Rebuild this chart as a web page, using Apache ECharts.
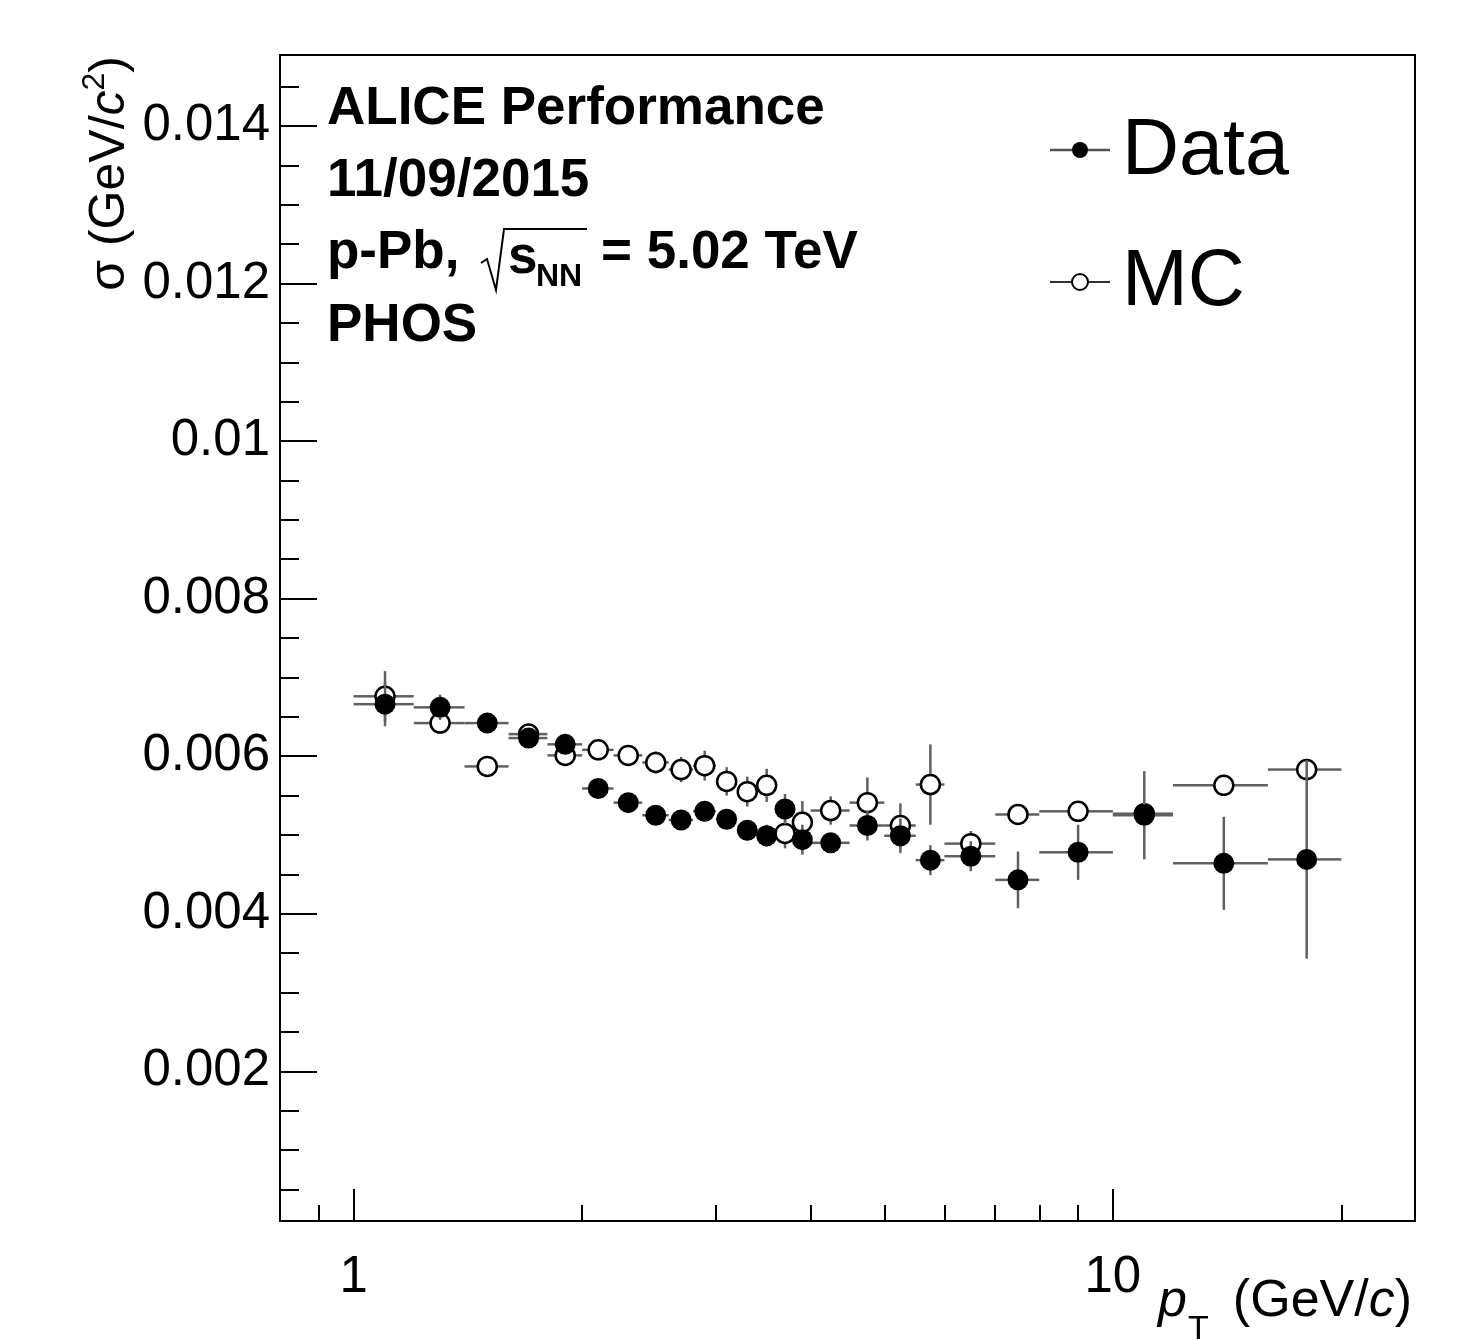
<!DOCTYPE html>
<html lang="en">
<head>
<meta charset="UTF-8" />
<title>sigma vs pT</title>
<script src="https://cdn.jsdelivr.net/npm/echarts@6/dist/echarts.min.js"></script>
<style>html,body{margin:0;padding:0;background:#fff;}</style>
</head>
<body>
<div id="main" style="width:1470px;height:1340px;"></div>
<script>
// pT bin edges (GeV/c)
var binEdges = [1.0, 1.2, 1.4, 1.6, 1.8, 2.0, 2.2, 2.4, 2.6, 2.8, 3.0, 3.2, 3.4, 3.6, 3.8, 4.0,
                4.5, 5.0, 5.5, 6.0, 7.0, 8.0, 10.0, 12.0, 16.0, 20.0];

// sigma (GeV/c^2)
var dataSigma = [0.00666, 0.00662, 0.00642, 0.00623, 0.00615, 0.00559, 0.00541, 0.00525, 0.00519, 0.00530,
                 0.00520, 0.00506, 0.00499, 0.00533, 0.00494, 0.00490, 0.00512, 0.00499, 0.00468, 0.00473,
                 0.00443, 0.00478, 0.00525, 0.00464, 0.00469];
var dataErr   = [0.00028, 0.00016, 0.00012, 0.00012, 0.00012, 0.00013, 0.00012, 0.00012, 0.00012, 0.00013,
                 0.00013, 0.00013, 0.00014, 0.00019, 0.00019, 0.00012, 0.00019, 0.00022, 0.00019, 0.00019,
                 0.00036, 0.00035, 0.00056, 0.00059, 0.00126];
var mcSigma   = [0.00676, 0.00642, 0.00587, 0.00628, 0.00601, 0.00608, 0.00601, 0.00592, 0.00583, 0.00588,
                 0.00568, 0.00555, 0.00563, 0.00502, 0.00516, 0.00531, 0.00541, 0.00512, 0.00564, 0.00489,
                 0.00526, 0.00530, 0.00527, 0.00563, 0.00583];
var mcErr     = [0.00032, 0.00012, 0.00012, 0.00012, 0.00012, 0.00012, 0.00012, 0.00014, 0.00016, 0.00019,
                 0.00018, 0.00019, 0.00021, 0.00019, 0.00027, 0.00018, 0.00032, 0.00028, 0.00051, 0.00016,
                 0.00012, 0.00012, 0.00012, 0.00012, 0.00012];

// axis ticks
var xMajorTicks = [1, 10];
var xMinorTicks = [0.9, 2, 3, 4, 5, 6, 7, 8, 9, 20];
var yMajorTicks = [0.002, 0.004, 0.006, 0.008, 0.01, 0.012, 0.014];
var yMinorTicks = [0.0005, 0.001, 0.0015, 0.0025, 0.003, 0.0035, 0.0045, 0.005, 0.0055, 0.0065, 0.007,
                   0.0075, 0.0085, 0.009, 0.0095, 0.0105, 0.011, 0.0115, 0.0125, 0.013, 0.0135, 0.0145];

var FONT = "'Liberation Sans', Arial, Helvetica, sans-serif";

function buildRows(vals, errs) {
  var rows = [];
  for (var i = 0; i < vals.length; i++) {
    var lo = binEdges[i], hi = binEdges[i + 1];
    rows.push([(lo + hi) / 2, vals[i], lo, hi, errs[i]]);
  }
  return rows;
}
var dataRows = buildRows(dataSigma, dataErr);
var mcRows = buildRows(mcSigma, mcErr);

// ROOT style error bars: stop at the marker edge
function errorBars(gap) {
  return function (params, api) {
    var x = api.value(0), y = api.value(1), lo = api.value(2), hi = api.value(3), e = api.value(4);
    var c = api.coord([x, y]);
    var l = api.coord([lo, y]), r = api.coord([hi, y]);
    var t = api.coord([x, y + e]), b = api.coord([x, y - e]);
    var style = { stroke: '#606060', lineWidth: 2.5, fill: null };
    var kids = [];
    function seg(x1, y1, x2, y2) {
      kids.push({ type: 'line', shape: { x1: x1, y1: y1, x2: x2, y2: y2 }, style: style });
    }
    if (c[0] - gap > l[0]) seg(l[0], c[1], c[0] - gap, c[1]);
    if (r[0] > c[0] + gap) seg(c[0] + gap, c[1], r[0], c[1]);
    if (t[1] < c[1] - gap) seg(c[0], t[1], c[0], c[1] - gap);
    if (b[1] > c[1] + gap) seg(c[0], c[1] + gap, c[0], b[1]);
    return { type: 'group', children: kids };
  };
}

var myChart = echarts.init(document.getElementById('main'));

var txt = function (x, y, s, size, weight, extra) {
  var st = { text: s, x: x, y: y, fill: '#000', font: (weight || 'normal') + ' ' + size + 'px ' + FONT,
             verticalAlign: 'middle' };
  if (extra) for (var k in extra) st[k] = extra[k];
  return { type: 'text', style: st, z: 100 };
};

var option = {
  animation: false,
  backgroundColor: '#fff',
  grid: {
    left: 280, top: 55, right: 55, bottom: 119,
    show: true, borderColor: '#000', borderWidth: 2, backgroundColor: 'transparent'
  },
  xAxis: [{
    type: 'log', logBase: 10, min: 0.8, max: 25, position: 'bottom',
    axisLine: { show: true, lineStyle: { color: '#000', width: 2 } },
    axisTick: { show: true, inside: true, length: 32, customValues: xMajorTicks, lineStyle: { color: '#000', width: 2 } },
    axisLabel: { show: true, customValues: xMajorTicks, margin: 31, color: '#000', fontSize: 51, fontFamily: FONT },
    splitLine: { show: false }
  }, {
    type: 'log', logBase: 10, min: 0.8, max: 25, position: 'bottom',
    axisLine: { show: false },
    axisTick: { show: true, inside: true, length: 16, customValues: xMinorTicks, lineStyle: { color: '#000', width: 2 } },
    axisLabel: { show: false },
    splitLine: { show: false }
  }],
  yAxis: [{
    type: 'value', min: 0.0001, max: 0.0149, position: 'left',
    axisLine: { show: true, lineStyle: { color: '#000', width: 2 } },
    axisTick: { show: true, inside: true, length: 37, customValues: yMajorTicks, lineStyle: { color: '#000', width: 2 } },
    axisLabel: { show: true, customValues: yMajorTicks, margin: 10, color: '#000', fontSize: 51, fontFamily: FONT,
                 formatter: function (v) { return String(+v.toPrecision(6)); } },
    splitLine: { show: false }
  }, {
    type: 'value', min: 0.0001, max: 0.0149, position: 'left',
    axisLine: { show: false },
    axisTick: { show: true, inside: true, length: 19, customValues: yMinorTicks, lineStyle: { color: '#000', width: 2 } },
    axisLabel: { show: false },
    splitLine: { show: false }
  }],
  series: [{
    name: 'MC err', type: 'custom', renderItem: errorBars(10), data: mcRows,
    encode: { x: 0, y: 1 }, z: 2, silent: true
  }, {
    name: 'MC', type: 'scatter', data: mcRows.map(function (r) { return [r[0], r[1]]; }),
    symbol: 'circle', symbolSize: 19, z: 3, silent: true,
    itemStyle: { color: 'rgba(0,0,0,0)', borderColor: '#000', borderWidth: 2.5, opacity: 1 }
  }, {
    name: 'Data err', type: 'custom', renderItem: errorBars(10), data: dataRows,
    encode: { x: 0, y: 1 }, z: 4, silent: true
  }, {
    name: 'Data', type: 'scatter', data: dataRows.map(function (r) { return [r[0], r[1]]; }),
    symbol: 'circle', symbolSize: 21, z: 5, silent: true,
    itemStyle: { color: '#000', borderWidth: 0, opacity: 1 }
  }],
  graphic: [
    // y axis title
    {
      type: 'text', x: 107, y: 56, rotation: Math.PI / 2, z: 100,
      style: {
        text: '{n|σ (GeV/}{i|c}{s|2}{n|)}', align: 'right', verticalAlign: 'middle', fill: '#000',
        rich: {
          n: { fontSize: 50, fontFamily: FONT, lineHeight: 56, verticalAlign: 'bottom' },
          i: { fontSize: 50, fontFamily: FONT, fontStyle: 'italic', lineHeight: 56, verticalAlign: 'bottom' },
          s: { fontSize: 32, fontFamily: FONT, lineHeight: 56, verticalAlign: 'top' }
        }
      }
    },
    // x axis title
    txt(1158, 1302, 'p', 52, 'normal', { font: 'italic 52px ' + FONT }),
    txt(1188, 1330, 'T', 34, 'normal'),
    {
      type: 'text', x: 1412, y: 1302, z: 100,
      style: {
        text: '{n|(GeV/}{i|c}{n|)}', align: 'right', verticalAlign: 'middle', fill: '#000',
        rich: {
          n: { fontSize: 52, fontFamily: FONT },
          i: { fontSize: 52, fontFamily: FONT, fontStyle: 'italic' }
        }
      }
    },
    // annotation block
    txt(327, 109, 'ALICE Performance', 53, 'bold'),
    txt(327, 181, '11/09/2015', 53, 'bold'),
    txt(327, 253, 'p-Pb,', 53, 'bold'),
    {
      type: 'polyline', z: 100,
      shape: { points: [[481, 263], [487, 259], [496, 290], [504, 229], [587, 229]] },
      style: { stroke: '#000', lineWidth: 2, fill: null }
    },
    txt(508, 258, 's', 53, 'bold'),
    txt(536, 277, 'NN', 32, 'bold'),
    txt(601, 253, '= 5.02 TeV', 53, 'bold'),
    txt(327, 326, 'PHOS', 53, 'bold'),
    // legend
    { type: 'line', z: 100, shape: { x1: 1050, y1: 150, x2: 1110, y2: 150 }, style: { stroke: '#505050', lineWidth: 2.5 } },
    { type: 'circle', z: 101, shape: { cx: 1080, cy: 150, r: 8 }, style: { fill: '#000' } },
    txt(1122, 152, 'Data', 79, 'normal'),
    { type: 'line', z: 100, shape: { x1: 1050, y1: 282, x2: 1071, y2: 282 }, style: { stroke: '#303030', lineWidth: 2 } },
    { type: 'line', z: 100, shape: { x1: 1089, y1: 282, x2: 1110, y2: 282 }, style: { stroke: '#303030', lineWidth: 2 } },
    { type: 'circle', z: 101, shape: { cx: 1080, cy: 282, r: 8 }, style: { fill: 'rgba(0,0,0,0)', stroke: '#000', lineWidth: 2 } },
    txt(1122, 283, 'MC', 79, 'normal')
  ]
};

myChart.setOption(option);
</script>
</body>
</html>
